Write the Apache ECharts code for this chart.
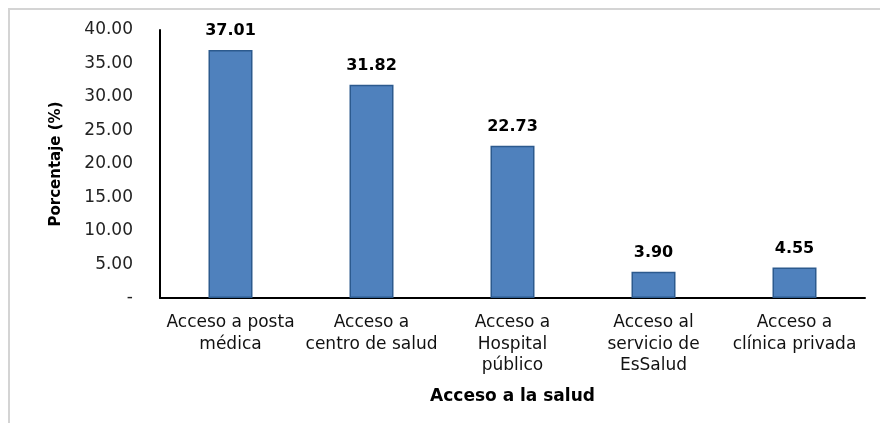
<!DOCTYPE html>
<html>
<head>
<meta charset="utf-8">
<script src="https://cdn.jsdelivr.net/npm/echarts@6/dist/echarts.min.js"></script>
<style>html,body{margin:0;padding:0;background:#fff;}#c{width:880px;height:423px;}</style>
</head>
<body>
<div id="c"></div>
<script>
var categories = ['Acceso a posta\nmédica', 'Acceso a\ncentro de salud', 'Acceso a\nHospital\npúblico', 'Acceso al\nservicio de\nEsSalud', 'Acceso a\nclínica privada'];
var values = [37.01, 31.82, 22.73, 3.90, 4.55];
var yTicks = [0, 5, 10, 15, 20, 25, 30, 35, 40];

var chart = echarts.init(document.getElementById('c'), null, {renderer: 'canvas'});
chart.setOption({
  animation: false,
  backgroundColor: '#fff',
  grid: {left: 160, right: 15, top: 30, bottom: 125, containLabel: false},
  graphic: [{
    type: 'rect', silent: true,
    shape: {x: 9, y: 9, width: 900, height: 440},
    style: {fill: 'none', stroke: '#d4d4d4', lineWidth: 2}
  }],
  xAxis: {
    type: 'category',
    data: categories,
    name: 'Acceso a la salud',
    nameLocation: 'middle',
    nameGap: 90,
    nameTextStyle: {fontFamily: 'DejaVu Sans', fontSize: 17, fontWeight: 'bold', color: '#000'},
    axisLine: {lineStyle: {color: '#000', width: 2}},
    axisTick: {show: false},
    axisLabel: {interval: 0, fontFamily: 'DejaVu Sans', fontSize: 17, color: '#111', lineHeight: 21.5, margin: 14}
  },
  yAxis: {
    type: 'value',
    min: yTicks[0],
    max: yTicks[yTicks.length - 1],
    interval: yTicks[1] - yTicks[0],
    name: 'Porcentaje (%)',
    nameLocation: 'middle',
    nameGap: 96,
    nameTextStyle: {fontFamily: 'DejaVu Sans', fontSize: 15, fontWeight: 'bold', color: '#000'},
    axisLine: {show: true, lineStyle: {color: '#000', width: 2}},
    axisTick: {show: false},
    splitLine: {show: false},
    axisLabel: {
      fontFamily: 'DejaVu Sans', fontSize: 17, color: '#222', margin: 27,
      formatter: function (v) { return v === 0 ? '-' : v.toFixed(2); }
    }
  },
  series: [{
    type: 'bar',
    data: values,
    barWidth: 44,
    itemStyle: {color: '#4f81bd', borderColor: '#2c5a8e', borderWidth: 1.5},
    label: {
      show: true, position: 'top', distance: 11,
      fontFamily: 'DejaVu Sans', fontWeight: 'bold', fontSize: 16, color: '#000',
      formatter: function (p) { return p.value.toFixed(2); }
    }
  }]
});
</script>
</body>
</html>
